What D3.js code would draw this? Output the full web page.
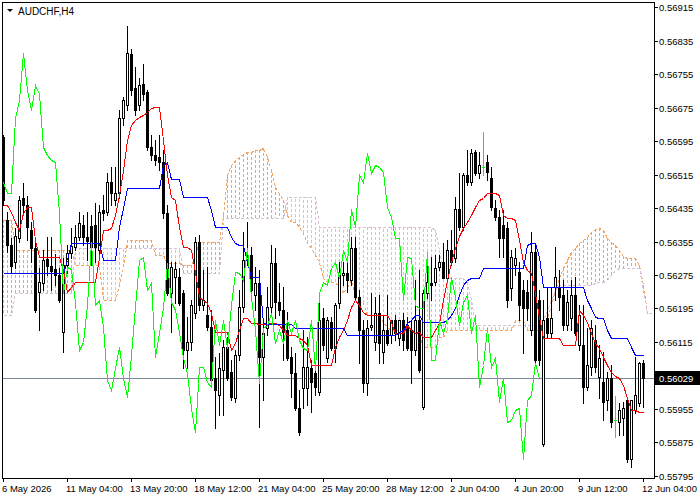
<!DOCTYPE html>
<html><head><meta charset="utf-8">
<script src="https://cdn.jsdelivr.net/npm/d3@7/dist/d3.min.js"></script>
<style>html,body{margin:0;padding:0;background:#fff}svg{display:block}</style>
</head><body>
<svg id="chart" width="700" height="500"></svg>
<script>
// ---- data (AUDCHF H4) ----
const symbolTitle = "AUDCHF,H4";
const xTickIdx = [0,16,32,48,64,80,96,112,128,144,160];
const xTickLabels = ["6 May 2026","11 May 04:00","13 May 20:00","18 May 12:00","21 May 04:00","25 May 20:00","28 May 12:00","2 Jun 04:00","4 Jun 20:00","9 Jun 12:00","12 Jun 04:00"];
const yTicks = [0.56915,0.56835,0.56755,0.56675,0.56595,0.56515,0.56435,0.56355,0.56275,0.56195,0.56115,0.55955,0.55875,0.55795];
const lastPrice = 0.56029;
const chikouShift = 26;

const opens = [0.56605,0.56407,0.56347,0.56306,0.56364,0.56459,0.56442,0.56383,0.56340,0.56234,
0.56256,0.56313,0.56297,0.56289,0.56275,0.56139,0.56299,0.56328,0.56342,0.56366,
0.56395,0.56366,0.56392,0.56395,0.56335,0.56430,0.56426,0.56497,0.56454,0.56471,
0.56650,0.56681,0.56803,0.56722,0.56681,0.56732,0.56713,0.56581,0.56562,0.56557,
0.56545,0.56423,0.56232,0.56270,0.56270,0.56232,0.56096,0.56115,0.56184,0.56354,
0.56203,0.56179,0.56151,0.56029,0.55988,0.56048,0.56103,0.56043,0.55981,0.56084,
0.56199,0.56313,0.56323,0.56227,0.56256,0.56079,0.56148,0.56199,0.56304,0.56210,
0.56191,0.56144,0.56079,0.56041,0.55957,0.56005,0.56005,0.56053,0.56041,0.55995,
0.56172,0.56077,0.56163,0.56101,0.56208,0.56275,0.56280,0.56263,0.56340,0.56222,
0.56144,0.56017,0.56151,0.56115,0.56184,0.56091,0.56144,0.56132,0.56167,0.56124,
0.56167,0.56155,0.56144,0.56096,0.56167,0.55959,0.56232,0.56256,0.56258,0.56294,
0.56306,0.56268,0.56335,0.56316,0.56433,0.56390,0.56514,0.56497,0.56569,0.56519,
0.56533,0.56545,0.56507,0.56435,0.56413,0.56395,0.56387,0.56244,0.56299,0.56282,
0.56239,0.56234,0.56144,0.56330,0.56215,0.55871,0.56172,0.56136,0.56246,0.56244,
0.56227,0.56155,0.56172,0.56227,0.56108,0.56108,0.56007,0.56055,0.56120,0.56031,
0.56019,0.55976,0.56029,0.55928,0.55924,0.55933,0.55976,0.55835,0.55952,0.55969,
0.56065];
const highs = [0.56610,0.56426,0.56364,0.56387,0.56464,0.56495,0.56464,0.56402,0.56359,0.56292,
0.56335,0.56366,0.56366,0.56325,0.56292,0.56316,0.56347,0.56387,0.56395,0.56426,
0.56418,0.56426,0.56418,0.56447,0.56442,0.56466,0.56519,0.56533,0.56533,0.56670,
0.56701,0.56870,0.56815,0.56772,0.56746,0.56779,0.56717,0.56610,0.56598,0.56610,
0.56574,0.56442,0.56306,0.56306,0.56292,0.56239,0.56175,0.56215,0.56366,0.56370,
0.56287,0.56294,0.56191,0.56079,0.56089,0.56120,0.56127,0.56072,0.56096,0.56239,
0.56378,0.56402,0.56342,0.56294,0.56287,0.56167,0.56246,0.56347,0.56340,0.56256,
0.56246,0.56187,0.56103,0.56089,0.56000,0.56144,0.56127,0.56072,0.56055,0.56222,
0.56196,0.56175,0.56175,0.56208,0.56306,0.56306,0.56304,0.56366,0.56366,0.56239,
0.56167,0.56167,0.56232,0.56222,0.56227,0.56179,0.56227,0.56167,0.56179,0.56167,
0.56184,0.56175,0.56167,0.56263,0.56287,0.56239,0.56316,0.56318,0.56323,0.56323,
0.56352,0.56359,0.56383,0.56462,0.56519,0.56519,0.56574,0.56576,0.56574,0.56569,
0.56617,0.56562,0.56533,0.56454,0.56430,0.56430,0.56402,0.56335,0.56340,0.56306,
0.56263,0.56263,0.56378,0.56347,0.56239,0.56215,0.56246,0.56246,0.56342,0.56287,
0.56263,0.56239,0.56263,0.56270,0.56203,0.56203,0.56148,0.56167,0.56155,0.56108,
0.56091,0.56043,0.56060,0.55986,0.55969,0.55971,0.55981,0.55976,0.56079,0.56067,
0.56072];
const lows = [0.56442,0.56330,0.56282,0.56292,0.56354,0.56426,0.56359,0.56306,0.56187,0.56144,
0.56239,0.56275,0.56239,0.56251,0.56210,0.56091,0.56280,0.56316,0.56335,0.56359,
0.56347,0.56311,0.56299,0.56306,0.56323,0.56407,0.56418,0.56442,0.56442,0.56459,
0.56634,0.56670,0.56705,0.56658,0.56670,0.56693,0.56574,0.56550,0.56538,0.56526,
0.56411,0.56227,0.56139,0.56208,0.56203,0.56053,0.56053,0.56096,0.56172,0.56191,
0.56191,0.56144,0.56019,0.55909,0.55940,0.55940,0.56024,0.55976,0.55971,0.56072,
0.56187,0.56299,0.56234,0.56191,0.55912,0.55976,0.56132,0.56187,0.56172,0.56179,
0.56072,0.56072,0.55983,0.55952,0.55892,0.55957,0.55964,0.55947,0.55988,0.55988,
0.56096,0.56067,0.56096,0.56067,0.56196,0.56251,0.56234,0.56251,0.56215,0.56065,
0.55995,0.55988,0.56144,0.56096,0.56065,0.56065,0.56108,0.56112,0.56120,0.56108,
0.56096,0.56096,0.56017,0.56084,0.56043,0.55955,0.56220,0.56215,0.56251,0.56287,
0.56268,0.56258,0.56299,0.56306,0.56383,0.56383,0.56490,0.56490,0.56514,0.56507,
0.56514,0.56502,0.56430,0.56407,0.56318,0.56318,0.56199,0.56215,0.56275,0.56167,
0.56089,0.56167,0.56132,0.56060,0.56060,0.55866,0.56124,0.56124,0.56215,0.56191,
0.56144,0.56144,0.56144,0.56132,0.56096,0.55969,0.56000,0.56036,0.56043,0.55981,
0.55928,0.55952,0.55912,0.55888,0.55892,0.55892,0.55828,0.55816,0.55945,0.55962,
0.55959];
const closes = [0.56454,0.56347,0.56297,0.56368,0.56454,0.56442,0.56390,0.56340,0.56191,0.56258,
0.56311,0.56297,0.56285,0.56275,0.56215,0.56299,0.56328,0.56344,0.56366,0.56399,
0.56366,0.56356,0.56342,0.56342,0.56426,0.56423,0.56497,0.56471,0.56471,0.56650,
0.56693,0.56806,0.56717,0.56670,0.56729,0.56708,0.56581,0.56562,0.56550,0.56545,
0.56423,0.56232,0.56294,0.56289,0.56208,0.56096,0.56115,0.56203,0.56354,0.56203,
0.56215,0.56151,0.56024,0.56000,0.56053,0.56103,0.56029,0.55983,0.56084,0.56199,
0.56311,0.56318,0.56239,0.56256,0.56079,0.56136,0.56199,0.56304,0.56210,0.56191,
0.56139,0.56077,0.56041,0.55957,0.55900,0.56055,0.56055,0.56019,0.56007,0.56167,
0.56108,0.56167,0.56101,0.56203,0.56282,0.56280,0.56263,0.56340,0.56222,0.56144,
0.56017,0.56148,0.56155,0.56184,0.56112,0.56144,0.56112,0.56167,0.56136,0.56167,
0.56120,0.56101,0.56096,0.56167,0.56048,0.56232,0.56258,0.56251,0.56292,0.56306,
0.56268,0.56335,0.56306,0.56433,0.56390,0.56514,0.56497,0.56567,0.56519,0.56538,
0.56533,0.56521,0.56437,0.56413,0.56364,0.56364,0.56215,0.56318,0.56316,0.56203,
0.56196,0.56196,0.56330,0.56072,0.56072,0.56167,0.56136,0.56172,0.56270,0.56222,
0.56155,0.56210,0.56227,0.56136,0.56179,0.56007,0.56060,0.56148,0.56055,0.56077,
0.55971,0.56029,0.55924,0.55928,0.55952,0.55957,0.55835,0.55976,0.55988,0.56065,
0.56029];
const tenkan = [0.56442,0.56442,0.56426,0.56402,0.56383,0.56423,0.56438,0.56438,0.56359,0.56318,
0.56318,0.56318,0.56318,0.56318,0.56318,0.56287,0.56234,0.56246,0.56258,0.56258,
0.56258,0.56258,0.56258,0.56258,0.56318,0.56383,0.56383,0.56387,0.56418,0.56466,
0.56526,0.56598,0.56634,0.56646,0.56653,0.56658,0.56665,0.56674,0.56677,0.56677,
0.56598,0.56514,0.56461,0.56454,0.56390,0.56342,0.56342,0.56335,0.56282,0.56222,
0.56215,0.56208,0.56184,0.56139,0.56139,0.56139,0.56139,0.56096,0.56112,0.56144,
0.56172,0.56172,0.56160,0.56160,0.56158,0.56158,0.56158,0.56160,0.56160,0.56155,
0.56144,0.56132,0.56132,0.56132,0.56124,0.56120,0.56108,0.56060,0.56060,0.56060,
0.56060,0.56060,0.56060,0.56103,0.56127,0.56144,0.56167,0.56199,0.56215,0.56203,
0.56187,0.56179,0.56179,0.56179,0.56179,0.56179,0.56179,0.56163,0.56136,0.56136,
0.56136,0.56155,0.56144,0.56136,0.56139,0.56127,0.56127,0.56127,0.56144,0.56160,
0.56215,0.56263,0.56306,0.56340,0.56368,0.56387,0.56402,0.56418,0.56438,0.56454,
0.56459,0.56471,0.56471,0.56471,0.56466,0.56418,0.56411,0.56411,0.56407,0.56359,
0.56306,0.56287,0.56280,0.56232,0.56175,0.56124,0.56124,0.56124,0.56124,0.56124,
0.56108,0.56108,0.56108,0.56108,0.56191,0.56179,0.56163,0.56136,0.56112,0.56101,
0.56079,0.56060,0.56043,0.56034,0.56029,0.56012,0.55981,0.55952,0.55952,0.55947,
0.55947];
const kijun = [0.56280,0.56280,0.56280,0.56280,0.56280,0.56280,0.56280,0.56280,0.56280,0.56280,
0.56280,0.56280,0.56280,0.56280,0.56280,0.56280,0.56311,0.56352,0.56352,0.56352,
0.56352,0.56352,0.56352,0.56352,0.56352,0.56311,0.56311,0.56311,0.56311,0.56390,
0.56435,0.56483,0.56483,0.56483,0.56483,0.56483,0.56483,0.56483,0.56483,0.56483,
0.56538,0.56545,0.56505,0.56505,0.56505,0.56461,0.56461,0.56461,0.56461,0.56461,
0.56461,0.56461,0.56430,0.56390,0.56390,0.56390,0.56390,0.56366,0.56352,0.56347,
0.56347,0.56306,0.56270,0.56270,0.56270,0.56160,0.56158,0.56158,0.56158,0.56158,
0.56158,0.56158,0.56158,0.56148,0.56148,0.56148,0.56148,0.56148,0.56148,0.56148,
0.56148,0.56148,0.56148,0.56148,0.56148,0.56148,0.56132,0.56132,0.56132,0.56132,
0.56132,0.56132,0.56132,0.56132,0.56132,0.56132,0.56132,0.56132,0.56132,0.56139,
0.56144,0.56160,0.56167,0.56179,0.56179,0.56163,0.56163,0.56163,0.56163,0.56163,
0.56163,0.56167,0.56179,0.56196,0.56227,0.56251,0.56263,0.56268,0.56268,0.56268,
0.56292,0.56292,0.56292,0.56292,0.56292,0.56292,0.56292,0.56292,0.56292,0.56292,
0.56292,0.56347,0.56352,0.56352,0.56318,0.56246,0.56246,0.56246,0.56246,0.56246,
0.56246,0.56246,0.56246,0.56246,0.56246,0.56246,0.56215,0.56196,0.56175,0.56172,
0.56172,0.56144,0.56124,0.56124,0.56124,0.56124,0.56124,0.56103,0.56084,0.56084,
0.56084];
const spanA = [0.56407,0.56407,0.56407,0.56335,0.56335,0.56335,0.56335,0.56335,0.56335,0.56335,
0.56335,0.56335,0.56335,0.56335,0.56335,0.56335,0.56335,0.56335,0.56299,0.56299,
0.56299,0.56299,0.56299,0.56299,0.56299,0.56215,0.56215,0.56215,0.56215,0.56251,
0.56294,0.56359,0.56359,0.56359,0.56359,0.56359,0.56359,0.56359,0.56323,0.56323,
0.56323,0.56304,0.56304,0.56304,0.56304,0.56299,0.56299,0.56299,0.56323,0.56354,
0.56354,0.56354,0.56354,0.56354,0.56354,0.56418,0.56514,0.56538,0.56550,0.56557,
0.56564,0.56569,0.56569,0.56574,0.56574,0.56579,0.56557,0.56526,0.56485,0.56471,
0.56454,0.56418,0.56402,0.56402,0.56390,0.56375,0.56352,0.56340,0.56323,0.56306,
0.56268,0.56258,0.56258,0.56258,0.56246,0.56232,0.56246,0.56263,0.56222,0.56215,
0.56208,0.56179,0.56179,0.56179,0.56179,0.56163,0.56151,0.56144,0.56144,0.56144,
0.56144,0.56144,0.56144,0.56144,0.56132,0.56103,0.56103,0.56103,0.56103,0.56127,
0.56127,0.56144,0.56144,0.56144,0.56144,0.56144,0.56144,0.56144,0.56144,0.56144,
0.56144,0.56144,0.56144,0.56144,0.56144,0.56144,0.56144,0.56144,0.56167,0.56167,
0.56167,0.56144,0.56144,0.56144,0.56144,0.56155,0.56172,0.56203,0.56239,0.56268,
0.56292,0.56311,0.56330,0.56340,0.56352,0.56359,0.56366,0.56378,0.56385,0.56387,
0.56383,0.56364,0.56354,0.56347,0.56335,0.56320,0.56316,0.56316,0.56316,0.56299,
0.56251,0.56184,0.56184];
const spanB = [0.56179,0.56179,0.56179,0.56232,0.56232,0.56232,0.56232,0.56232,0.56232,0.56232,
0.56232,0.56232,0.56232,0.56232,0.56232,0.56232,0.56232,0.56232,0.56340,0.56340,
0.56340,0.56340,0.56340,0.56340,0.56340,0.56340,0.56340,0.56340,0.56340,0.56340,
0.56340,0.56340,0.56340,0.56340,0.56340,0.56340,0.56340,0.56340,0.56340,0.56340,
0.56340,0.56340,0.56340,0.56340,0.56340,0.56280,0.56280,0.56280,0.56280,0.56280,
0.56280,0.56280,0.56280,0.56280,0.56280,0.56411,0.56411,0.56411,0.56411,0.56411,
0.56411,0.56411,0.56411,0.56411,0.56411,0.56411,0.56411,0.56411,0.56411,0.56411,
0.56411,0.56461,0.56461,0.56461,0.56461,0.56461,0.56461,0.56461,0.56461,0.56390,
0.56390,0.56390,0.56390,0.56390,0.56390,0.56390,0.56390,0.56390,0.56390,0.56390,
0.56390,0.56390,0.56390,0.56390,0.56390,0.56390,0.56390,0.56390,0.56390,0.56390,
0.56390,0.56390,0.56390,0.56390,0.56390,0.56390,0.56390,0.56390,0.56383,0.56335,
0.56287,0.56268,0.56268,0.56268,0.56268,0.56268,0.56258,0.56215,0.56160,0.56155,
0.56155,0.56155,0.56155,0.56155,0.56155,0.56155,0.56155,0.56155,0.56155,0.56155,
0.56155,0.56155,0.56155,0.56155,0.56155,0.56167,0.56191,0.56215,0.56239,0.56251,
0.56251,0.56251,0.56251,0.56251,0.56251,0.56251,0.56251,0.56251,0.56256,0.56258,
0.56258,0.56263,0.56275,0.56287,0.56292,0.56292,0.56292,0.56292,0.56292,0.56292,
0.56239,0.56184,0.56184];

// ---- layout ----
const svg = d3.select("#chart");
const frame = {l: 2, t: 2, r: 654, b: 478};
const X = d3.scaleLinear().domain([0, 160]).range([3, 643]);
const Y = d3.scaleLinear().domain([0.55795, 0.56915]).range([475.7, 7.3]);
const px = i => Math.round(X(i));
const py = v => Math.round(Y(v));
const FONT = "'Liberation Sans', Arial, sans-serif";

svg.append("rect").attr("width", 700).attr("height", 500).attr("fill", "#fff");

const defs = svg.append("defs");
defs.append("clipPath").attr("id", "plotclip").append("rect")
  .attr("x", frame.l + 1).attr("y", frame.t + 1)
  .attr("width", frame.r - frame.l - 1).attr("height", frame.b - frame.t - 1);

const plot = svg.append("g").attr("clip-path", "url(#plotclip)");

// current price line
plot.append("line")
  .attr("x1", frame.l).attr("x2", frame.r)
  .attr("y1", py(lastPrice) + 0.5).attr("y2", py(lastPrice) + 0.5)
  .attr("stroke", "#778899").attr("stroke-width", 1);

// cloud hatch (one dotted vertical per bar)
const cloudIdx = d3.range(spanA.length);
plot.append("g").selectAll("line").data(cloudIdx).join("line")
  .attr("x1", i => px(i) + 0.5).attr("x2", i => px(i) + 0.5)
  .attr("y1", i => py(spanA[i])).attr("y2", i => py(spanB[i]))
  .attr("stroke", i => spanA[i] >= spanB[i] ? "#F4A460" : "#D8BFD8")
  .attr("stroke-width", 1).attr("stroke-dasharray", "3,2")
  .attr("shape-rendering", "crispEdges");

const lineGen = d3.line().x(d => px(d[0]) + 0.5).y(d => py(d[1]) + 0.5);
function drawLine(vals, color, dash, offset) {
  const pts = vals.map((v, i) => [i + (offset || 0), v]);
  const p = plot.append("path").attr("d", lineGen(pts))
    .attr("fill", "none").attr("stroke", color).attr("stroke-width", 1)
    .attr("shape-rendering", "crispEdges");
  if (dash) p.attr("stroke-dasharray", dash);
}
drawLine(spanA, "#F4A460", "3,2");
drawLine(spanB, "#D8BFD8", "3,2");

// candles
const bars = plot.append("g").attr("shape-rendering", "crispEdges");
closes.forEach((c, i) => {
  const o = opens[i], h = highs[i], l = lows[i];
  const cx = px(i);
  const doji = o === c;
  const col = doji ? "#00FF00" : "#000";
  bars.append("rect").attr("x", cx).attr("y", py(h))
    .attr("width", 1).attr("height", Math.max(1, py(l) - py(h) + 1)).attr("fill", col);
  const top = Math.min(py(o), py(c)), bot = Math.max(py(o), py(c));
  if (doji) {
    bars.append("rect").attr("x", cx - 1).attr("y", top).attr("width", 3).attr("height", 1).attr("fill", col);
  } else {
    bars.append("rect").attr("x", cx - 1).attr("y", top).attr("width", 3)
      .attr("height", bot - top + 1).attr("fill", "#000");
    if (c > o && bot - top >= 2) {
      bars.append("rect").attr("x", cx).attr("y", top + 1).attr("width", 1)
        .attr("height", bot - top - 1).attr("fill", "#fff");
    }
  }
});

// Ichimoku lines
drawLine(tenkan, "#FF0000");
drawLine(kijun, "#0000FF");
const chikouVals = closes.slice(chikouShift);
drawLine(chikouVals, "#00FF00", null, 0);

// ---- frame & axes ----
const ax = svg.append("g").attr("shape-rendering", "crispEdges");
ax.append("rect").attr("x", frame.l + 0.5).attr("y", frame.t + 0.5)
  .attr("width", frame.r - frame.l).attr("height", frame.b - frame.t)
  .attr("fill", "none").attr("stroke", "#000");

yTicks.forEach(t => {
  const yy = py(t);
  ax.append("line").attr("x1", frame.r).attr("x2", frame.r + 4)
    .attr("y1", yy + 0.5).attr("y2", yy + 0.5).attr("stroke", "#000");
  svg.append("text").attr("x", 659).attr("y", yy + 3.5)
    .attr("font-family", FONT).attr("font-size", "9.5px").attr("fill", "#000")
    .text(t.toFixed(5));
});

xTickIdx.forEach((idx, k) => {
  const xx = px(idx);
  ax.append("line").attr("x1", xx + 0.5).attr("x2", xx + 0.5)
    .attr("y1", frame.b).attr("y2", frame.b + 4).attr("stroke", "#000");
  svg.append("text").attr("x", xx - 1).attr("y", 492)
    .attr("font-family", FONT).attr("font-size", "9.5px").attr("fill", "#000")
    .text(xTickLabels[k]);
});

// current price tag
const ly = py(lastPrice);
svg.append("rect").attr("x", 655).attr("y", ly - 7).attr("width", 45).attr("height", 14).attr("fill", "#000");
svg.append("text").attr("x", 659).attr("y", ly + 3.5)
  .attr("font-family", FONT).attr("font-size", "9.5px").attr("fill", "#fff")
  .text(lastPrice.toFixed(5));

// title
svg.append("path").attr("d", "M7,9 L13,9 L10,12 Z").attr("fill", "#000");
svg.append("text").attr("x", 18).attr("y", 15)
  .attr("font-family", FONT).attr("font-size", "10px").attr("fill", "#000")
  .text(symbolTitle);
</script>
</body></html>
